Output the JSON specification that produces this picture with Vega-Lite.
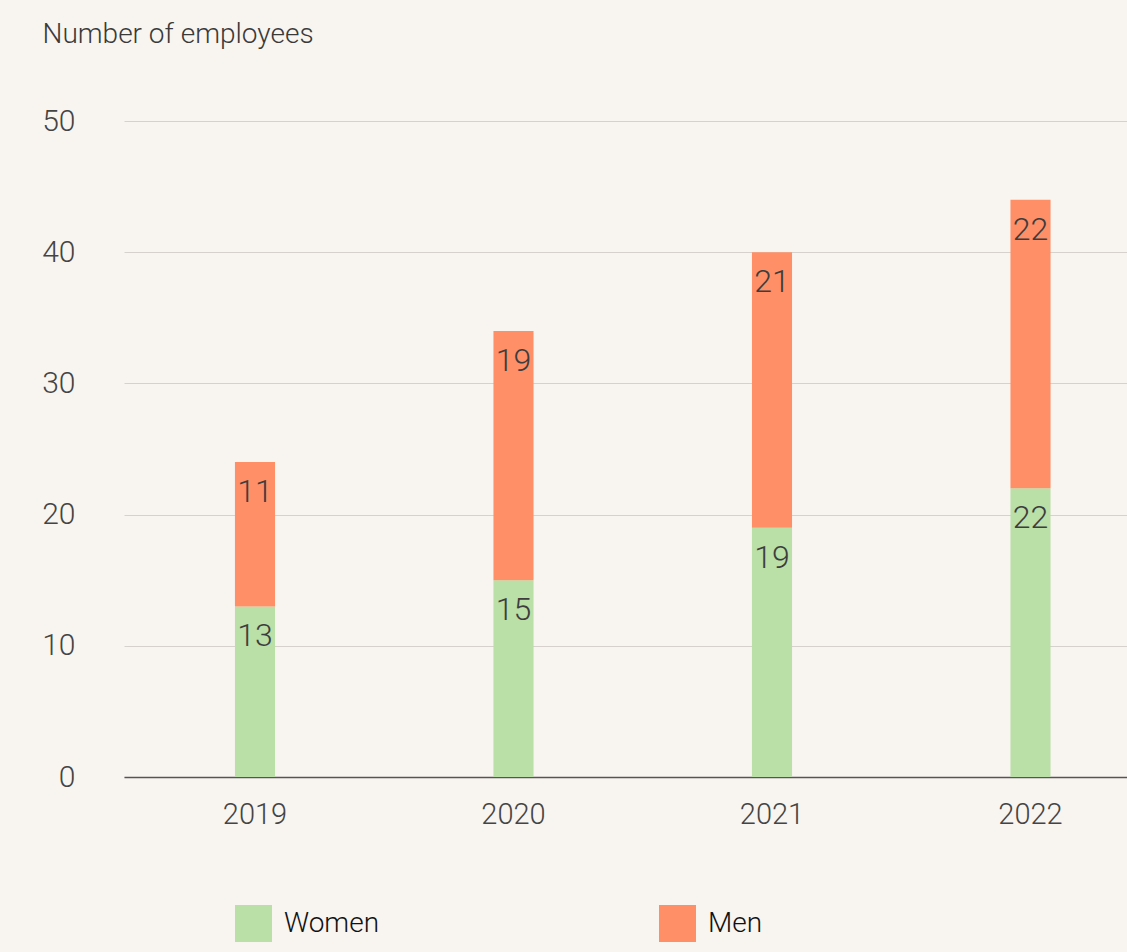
{
  "$schema": "https://vega.github.io/schema/vega-lite/v6.json",
  "autosize": {"type": "none"},
  "width": 1003,
  "height": 656,
  "padding": {"left": 124, "top": 121, "right": 0, "bottom": 175},
  "background": "#f8f4f0",
  "config": {
    "view": {"stroke": null},
    "font": "Roboto",
    "axis": {"labelFontWeight": 300, "titleFontWeight": 300},
    "legend": {"labelFontWeight": 300}
  },
  "data": {
    "values": [
      {"year": "2019", "gender": "Women", "order": 1, "count": 13},
      {"year": "2019", "gender": "Men", "order": 2, "count": 11},
      {"year": "2020", "gender": "Women", "order": 1, "count": 15},
      {"year": "2020", "gender": "Men", "order": 2, "count": 19},
      {"year": "2021", "gender": "Women", "order": 1, "count": 19},
      {"year": "2021", "gender": "Men", "order": 2, "count": 21},
      {"year": "2022", "gender": "Women", "order": 1, "count": 22},
      {"year": "2022", "gender": "Men", "order": 2, "count": 22}
    ]
  },
  "transform": [
    {"stack": "count", "groupby": ["year"], "sort": [{"field": "order"}], "as": ["y0", "y1"]}
  ],
  "encoding": {
    "x": {
      "field": "year", "type": "nominal",
      "scale": {"paddingInner": 0.845, "paddingOuter": 0.3625, "align": 0.592},
      "axis": {
        "title": null, "labelAngle": 0, "labelFontSize": 29, "labelColor": "#444444",
        "labelPadding": 23, "ticks": false, "domainColor": "#555555", "domainWidth": 1.5
      }
    }
  },
  "layer": [
    {
      "mark": {"type": "bar"},
      "encoding": {
        "y": {
          "field": "y1", "type": "quantitative",
          "scale": {"domain": [0, 50]},
          "axis": {
            "values": [0, 10, 20, 30, 40, 50],
            "title": "Number of employees", "titleAngle": 0, "titleAlign": "left",
            "titleBaseline": "alphabetic", "titleX": -82, "titleY": -79,
            "titleFontSize": 28, "titleColor": "#3a3a3a",
            "labelFontSize": 30, "labelColor": "#444444", "labelPadding": 49,
            "ticks": false, "domain": false, "gridColor": "#d6d1cd", "gridWidth": 1
          }
        },
        "y2": {"field": "y0"},
        "color": {
          "field": "gender", "type": "nominal",
          "scale": {"domain": ["Women", "Men"], "range": ["#badfa7", "#ff8f67"]},
          "legend": {
            "title": null, "orient": "none", "direction": "horizontal",
            "legendX": 111, "legendY": 784,
            "symbolType": "square", "symbolSize": 1369, "symbolStrokeWidth": 0,
            "labelFontSize": 28, "labelColor": "#111111", "labelOffset": 12,
            "columnPadding": 279
          }
        }
      }
    },
    {
      "mark": {"type": "text", "baseline": "middle", "dy": 30, "fontSize": 32, "fontWeight": 300, "color": "#3d3d3d"},
      "encoding": {
        "y": {"field": "y1", "type": "quantitative"},
        "text": {"field": "count", "type": "quantitative"}
      }
    }
  ]
}
